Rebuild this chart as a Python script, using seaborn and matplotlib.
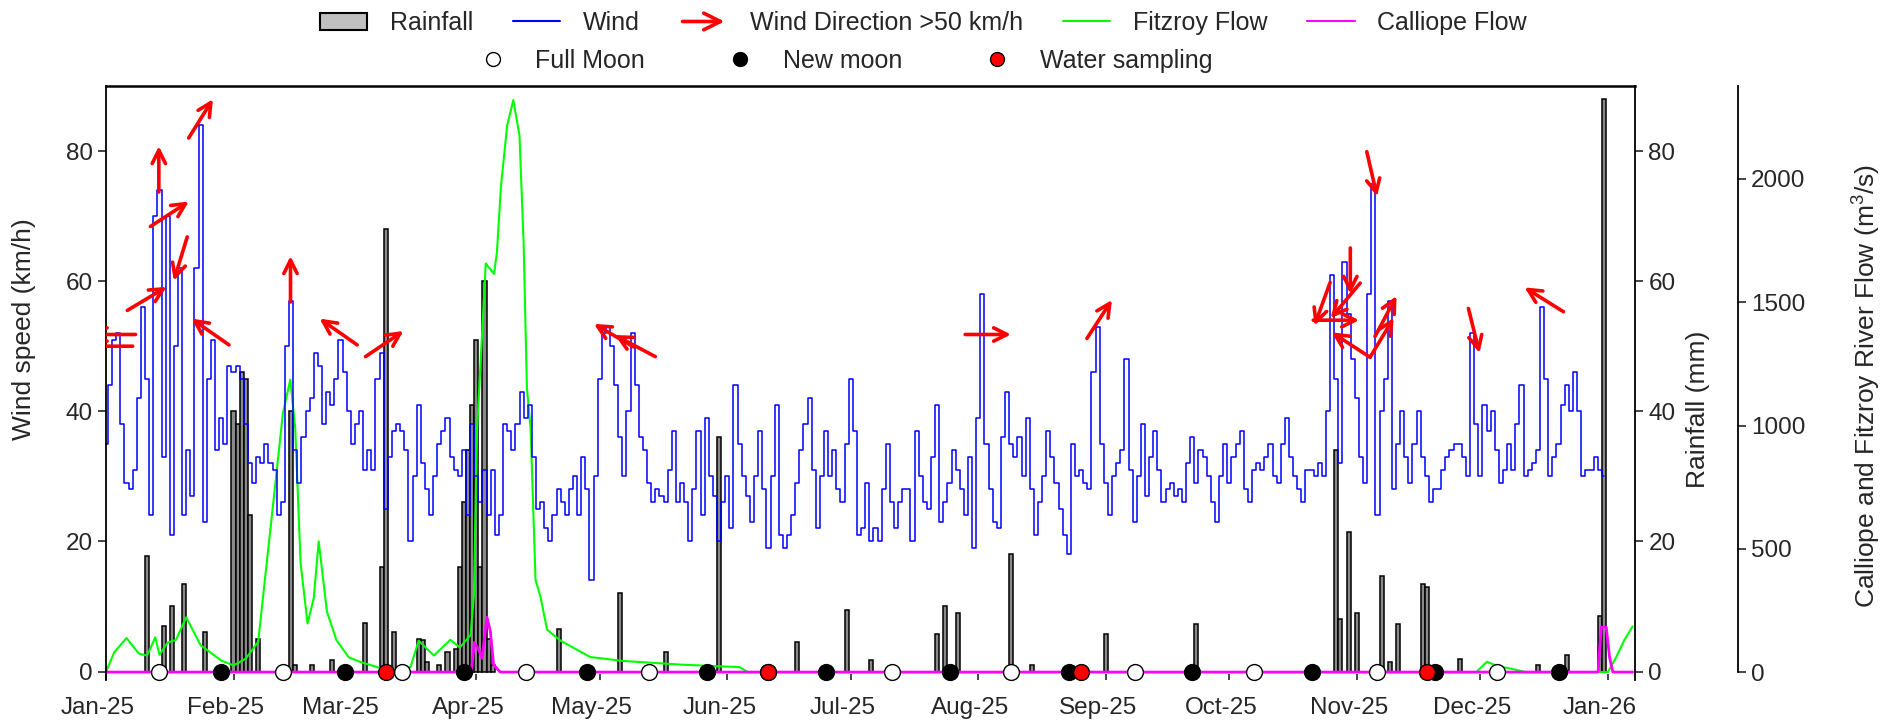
import numpy as np
import pandas as pd
import matplotlib
matplotlib.use("Agg")
import matplotlib.pyplot as plt
import matplotlib.dates as mdates
import matplotlib.patches as mpatches
import matplotlib.transforms as mtransforms
from matplotlib.lines import Line2D
from matplotlib.legend_handler import HandlerPatch
import seaborn as sns

start = pd.Timestamp("2025-01-01")

# daily wind speed (km/h)
wind_jan = [35, 44, 51, 52, 38, 29, 28, 31, 42, 56, 45, 24, 70, 74, 33, 70, 21, 50, 62, 24, 34, 27, 62, 84, 23, 45, 51, 34, 39, 35, 47]
wind_feb = [46, 47, 45, 38, 32, 29, 33, 32, 35, 32, 31, 24, 26, 50, 57, 34, 29, 36, 40, 42, 49, 47, 38, 43, 41, 45, 51, 46]
wind_mar = [40, 35, 38, 40, 31, 34, 31, 45, 49, 25, 33, 37, 38, 37, 34, 20, 30, 41, 32, 28, 24, 30, 35, 37, 39, 33, 31, 30, 34, 24, 38]
wind_apr = [30, 26, 31, 24, 31, 21, 24, 38, 37, 34, 38, 43, 39, 41, 33, 25, 26, 22, 20, 24, 28, 26, 24, 28, 30, 24, 33, 28, 14, 30]
wind_may = [45, 52, 53, 50, 44, 36, 30, 40, 52, 44, 36, 34, 29, 26, 28, 27, 26, 31, 37, 26, 29, 26, 20, 28, 37, 24, 39, 30, 27, 20, 26]
wind_jun = [30, 22, 44, 35, 30, 27, 23, 30, 37, 28, 19, 30, 41, 21, 19, 21, 24, 29, 34, 38, 42, 31, 22, 30, 37, 30, 34, 28, 26, 35]
wind_jul = [45, 37, 21, 22, 29, 20, 22, 20, 28, 35, 26, 22, 26, 28, 28, 20, 37, 30, 26, 25, 33, 41, 23, 26, 29, 34, 31, 28, 24, 33, 19]
wind_aug = [39, 58, 35, 28, 23, 22, 36, 43, 35, 33, 36, 30, 39, 28, 21, 26, 30, 37, 33, 29, 25, 21, 18, 35, 30, 31, 29, 28, 46, 53, 35]
wind_sep = [29, 24, 30, 32, 34, 48, 31, 23, 30, 38, 27, 33, 37, 31, 26, 28, 29, 27, 28, 26, 32, 36, 29, 34, 33, 30, 26, 23, 30, 35]
wind_oct = [29, 33, 35, 37, 28, 26, 31, 32, 31, 33, 35, 30, 29, 35, 39, 33, 30, 28, 26, 31, 31, 30, 32, 30, 40, 61, 45, 32, 63, 55, 48]
wind_nov = [42, 33, 29, 58, 75, 24, 40, 45, 57, 28, 35, 40, 33, 29, 35, 40, 33, 30, 26, 28, 28, 31, 33, 34, 35, 35, 33, 30, 52, 38]
wind_dec = [30, 41, 37, 40, 34, 29, 31, 35, 31, 38, 44, 30, 31, 32, 34, 56, 45, 30, 33, 35, 41, 44, 40, 46, 40, 30, 31, 31, 33, 31, 30]

# daily rainfall (mm), only the days with rain
rain_day = [10, 14, 16, 19, 24, 31, 32, 33, 34, 35, 37, 45, 46, 50, 55, 63, 67, 68, 70, 76, 77, 78, 81, 83,
            85, 86, 87, 88, 89, 90, 91, 92, 93, 94, 110, 125, 136, 149, 168, 180, 186, 202, 204, 207, 220, 225,
            243, 265, 299, 300, 302, 304, 310, 312, 314, 320, 321, 329, 348, 355, 363, 364]
rain_mm = [17.8, 7, 10, 13.5, 6, 40, 38, 46, 45, 24, 5, 40, 1, 1, 1.7, 7.5, 16, 68, 6, 5, 4.8, 1.5, 1, 3,
           3.5, 16, 26, 34, 41, 51, 16, 60, 5, 1, 6.5, 12, 3, 36, 4.5, 9.5, 1.7, 5.8, 10, 9, 18, 1,
           5.8, 7.3, 34, 8, 21.5, 9, 14.7, 1.5, 7.3, 13.5, 13, 2, 1, 2.5, 8.5, 88]

# river flows (m3/s) at day-of-year
fitzroy_day = [0, 2, 5, 8, 10, 12, 13, 15, 17, 19.5, 23, 28, 31, 34, 37, 38.5, 41, 43, 44.8, 46,
               47.3, 49, 50.5, 51.7, 53.7, 56, 59, 62, 67, 70, 74, 76, 79.7, 83.7, 86, 88.6, 89.4, 90.2, 92.3, 94.3,
               95, 96, 97.5, 99, 100.5, 101.5, 102.3, 103.2, 104.4, 105.6, 107.2, 110.5, 117.7, 125.8, 140, 154, 156, 333, 335.6, 338,
               342, 345, 365, 367, 369, 371]
fitzroy_flow = [0, 80, 138, 75, 67, 141, 70, 120, 130, 222, 109, 47, 27, 55, 123, 355, 738, 1050, 1186, 988,
                442, 197, 300, 530, 246, 130, 60, 40, 15, 10, 20, 127, 67, 131, 100, 150, 305, 988, 1657, 1615,
                1700, 1971, 2217, 2320, 2175, 1739, 1152, 988, 373, 305, 172, 127, 61, 45, 30, 20, 0, 0, 42, 25,
                12, 0, 0, 60, 130, 185]
calliope_day = [0, 88.8, 89.5, 90.6, 91.4, 92.6, 93.4, 94.2, 95.8, 362.6, 363.4, 364.6, 365.4, 366.2, 371]
calliope_flow = [0, 0, 120, 90, 56, 222, 167, 30, 0, 0, 182, 182, 60, 0, 0]

full_moon_day = [13, 43, 72, 102, 132, 161, 191, 220, 250, 279, 309, 338]
new_moon_day = [28, 58, 87, 117, 146, 175, 205, 234, 264, 293, 323, 353]
sampling_day = [68, 161, 237, 321]

# wind direction arrows on days above 50 km/h (tail position, screen angle in degrees)
arrow_day = [7.2, 6.5, 5.2, 12.85, 10.8, 19.75, 20.1, 29.9, 44.85, 61.05, 63.07, 128.25, 133.5,
             208.8, 238.4, 302.4, 304.8, 293.4, 297.5, 307.2, 307.2, 308.4, 306.4, 331.1, 354.2]
arrow_kmh = [51.8, 50.0, 55.5, 73.7, 68.4, 66.8, 82.0, 50.2, 56.8, 50.2, 48.4, 49.9, 48.4,
             51.8, 51.2, 65.1, 59.7, 54.0, 59.8, 48.3, 48.3, 51.5, 79.9, 55.8, 55.3]
arrow_angle = [180, 180, 31, 90, 33, -107, 58, 145, 90, 145, 34, 150, 152,
               0, 57, -90, -130, 0, -110, 147, 59, 62, -77, -76, 148]


def to_dates(days):
    return start + pd.to_timedelta(np.asarray(days, dtype=float), unit="D")


sns.set_style("ticks")
plt.rcParams["font.family"] = ["Liberation Sans", "DejaVu Sans"]
plt.rcParams["mathtext.fontset"] = "custom"
plt.rcParams["mathtext.rm"] = "Liberation Sans"
plt.rcParams["axes.edgecolor"] = "black"

tick_fs = 17.5
label_fs = 19

wind_kmh = (wind_jan + wind_feb + wind_mar + wind_apr + wind_may + wind_jun
            + wind_jul + wind_aug + wind_sep + wind_oct + wind_nov + wind_dec)
wind_dates = to_dates(range(len(wind_kmh)))

fig = plt.figure(figsize=(18.92, 7.26), dpi=100)
ax = fig.add_axes([0.056, 0.0634, 0.8082, 0.8182])
ax_rain = ax.twinx()
ax_flow = ax.twinx()
ax_rain.set_zorder(1)
ax_flow.set_zorder(2)
ax.set_zorder(3)
for a in (ax, ax_rain, ax_flow):
    a.patch.set_visible(False)

# rainfall bars
ax_rain.bar(to_dates(rain_day), rain_mm, width=1.0, color="#8a8a8a", edgecolor="black", linewidth=1.1)

# river flows
sns.lineplot(x=to_dates(fitzroy_day), y=fitzroy_flow, ax=ax_flow, color="#00ff00", lw=1.5,
             estimator=None, legend=False)
sns.lineplot(x=to_dates(calliope_day), y=calliope_flow, ax=ax_flow, color="#ff00ff", lw=2,
             estimator=None, legend=False)

# wind
sns.lineplot(x=wind_dates, y=wind_kmh, ax=ax, color="#0000ff", lw=1.1, drawstyle="steps-mid",
             estimator=None, legend=False)

L = 33
for d, v, ang in zip(arrow_day, arrow_kmh, arrow_angle):
    an = ax.annotate("", xy=(to_dates([d])[0], v),
                     xytext=(L * np.cos(np.radians(ang)), L * np.sin(np.radians(ang))),
                     textcoords="offset points", annotation_clip=False,
                     arrowprops=dict(arrowstyle="<-", color="red", lw=2.6, shrinkA=0, shrinkB=0,
                                     mutation_scale=24))
    an.arrow_patch.set_clip_box(ax.bbox)
    an.arrow_patch.set_clip_on(True)

# moon phases and sampling
sns.scatterplot(x=to_dates(full_moon_day), y=[0] * len(full_moon_day), ax=ax, color="white",
                edgecolor="black", s=130, linewidth=1, zorder=5, clip_on=False, legend=False)
sns.scatterplot(x=to_dates(new_moon_day), y=[0] * len(new_moon_day), ax=ax, color="black",
                edgecolor="black", s=130, linewidth=1, zorder=5, clip_on=False, legend=False)
sns.scatterplot(x=to_dates(sampling_day), y=[0] * len(sampling_day), ax=ax, color="red",
                edgecolor="black", s=130, linewidth=1, zorder=6, clip_on=False, legend=False)

# axes
ax.set_xlim(start, start + pd.Timedelta(days=371.6))
ax.set_ylim(-1.3, 90)
ax_rain.set_ylim(-1.3, 90)
flow_top = 2377
ax_flow.set_ylim(-32, flow_top)

ax.xaxis.set_major_locator(mdates.MonthLocator())
ax.xaxis.set_major_formatter(mdates.DateFormatter("%b-%y"))
ax.set_yticks([0, 20, 40, 60, 80])
ax_rain.set_yticks([0, 20, 40, 60, 80])
ax_flow.set_yticks([0, 500, 1000, 1500, 2000])

ax.tick_params(axis="x", direction="in", length=4, width=1.2, pad=12, labelsize=tick_fs)
ax.tick_params(axis="y", direction="out", length=6, width=1.2, labelsize=tick_fs)
ax_rain.tick_params(axis="y", direction="out", length=6, width=1.2, labelsize=tick_fs)
ax_flow.tick_params(axis="y", direction="out", length=6, width=1.2, labelsize=tick_fs)

# month labels sit a little left of their ticks
shift = mtransforms.ScaledTranslation(-8 / 100, 0, fig.dpi_scale_trans)
for lab in ax.get_xticklabels():
    lab.set_transform(lab.get_transform() + shift)

for s in ("bottom", "right"):
    ax.spines[s].set_visible(False)
for s in ("bottom", "top", "left"):
    ax_rain.spines[s].set_visible(False)
    ax_flow.spines[s].set_visible(False)
ax.spines["top"].set_linewidth(1.8)
ax.spines["left"].set_linewidth(1.3)
ax_rain.spines["right"].set_linewidth(1.3)
ax_flow.spines["right"].set_position(("axes", 1.067))
ax_flow.spines["right"].set_bounds(0, flow_top)
ax_flow.spines["right"].set_linewidth(1.3)

ax.set_xlabel("")
ax.set_ylabel("Wind speed (km/h)", fontsize=label_fs)
ax_rain.set_ylabel("Rainfall (mm)", fontsize=label_fs)
ax_flow.set_ylabel("Calliope and Fitzroy River Flow (m$^3$/s)", fontsize=label_fs)
ax.yaxis.set_label_coords(-0.046, 0.59)
ax_rain.yaxis.set_label_coords(1.033, 0.455)
ax_flow.yaxis.set_label_coords(1.14, 0.495)


# legend
def make_arrow(legend, orig_handle, xdescent, ydescent, width, height, fontsize):
    y = height / 2 - ydescent
    return mpatches.FancyArrowPatch((-xdescent, y), (width - xdescent, y), arrowstyle="->",
                                    mutation_scale=30)


arrow_handle = mpatches.FancyArrowPatch((0, 0), (1, 0), color="red", lw=2.6)
row1 = [mpatches.Patch(facecolor="#c0c0c0", edgecolor="black", linewidth=1.5, label="Rainfall"),
        Line2D([], [], color="#0000ff", lw=1.5, label="Wind"),
        arrow_handle,
        Line2D([], [], color="#00ff00", lw=1.5, label="Fitzroy Flow"),
        Line2D([], [], color="#ff00ff", lw=1.5, label="Calliope Flow")]
labels1 = ["Rainfall", "Wind", "Wind Direction >50 km/h", "Fitzroy Flow", "Calliope Flow"]
row2 = [Line2D([], [], ls="none", marker="o", markersize=10, markerfacecolor="white", markeredgecolor="black"),
        Line2D([], [], ls="none", marker="o", markersize=10, markerfacecolor="black", markeredgecolor="black"),
        Line2D([], [], ls="none", marker="o", markersize=10, markerfacecolor="red", markeredgecolor="black")]
labels2 = ["Full Moon", "New moon", "Water sampling"]

fig.legend(row1, labels1, loc="center", bbox_to_anchor=(0.488, 0.968), ncol=5, frameon=False,
           fontsize=18, handlelength=1.9, handletextpad=0.9, columnspacing=1.6,
           handler_map={mpatches.FancyArrowPatch: HandlerPatch(patch_func=make_arrow)})
fig.legend(row2, labels2, loc="center", bbox_to_anchor=(0.444, 0.916), ncol=3, frameon=False,
           fontsize=18, handlelength=2, handletextpad=0.7, columnspacing=2.8)

fig.savefig("out.png", dpi=100)
